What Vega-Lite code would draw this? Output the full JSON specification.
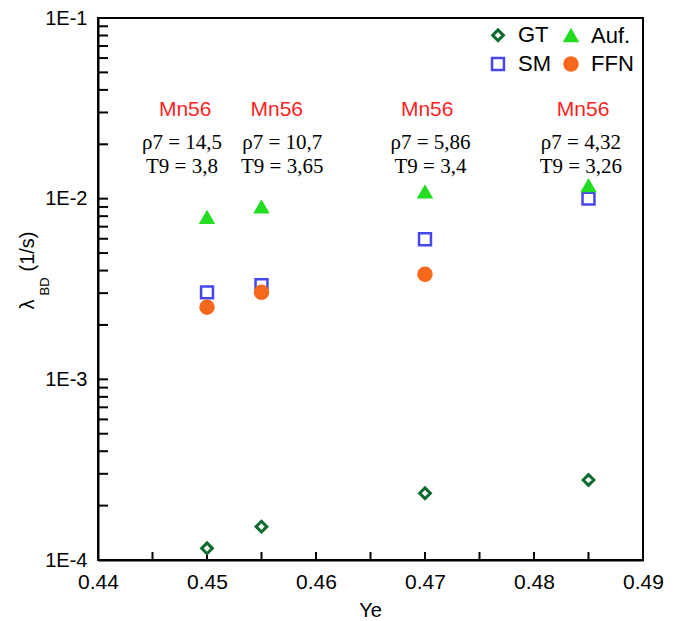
{
  "$schema": "https://vega.github.io/schema/vega-lite/v6.json",
  "width": 545,
  "height": 542,
  "autosize": {"type": "none"},
  "padding": {"left": 98, "top": 18, "right": 37, "bottom": 61},
  "background": "white",
  "config": {
    "view": {"stroke": "black", "strokeWidth": 2},
    "axis": {
      "grid": false,
      "domainColor": "black",
      "domainWidth": 2,
      "labelColor": "black",
      "titleColor": "black",
      "labelFont": "Liberation Sans",
      "titleFont": "Liberation Sans",
      "titleFontWeight": "normal"
    }
  },
  "datasets": {
    "points": [
      {"Ye": 0.45, "lambda": 0.000116, "series": "GT"},
      {"Ye": 0.455, "lambda": 0.000153, "series": "GT"},
      {"Ye": 0.47, "lambda": 0.000234, "series": "GT"},
      {"Ye": 0.485, "lambda": 0.000277, "series": "GT"},
      {"Ye": 0.45, "lambda": 0.00303, "series": "SM"},
      {"Ye": 0.455, "lambda": 0.00332, "series": "SM"},
      {"Ye": 0.47, "lambda": 0.00596, "series": "SM"},
      {"Ye": 0.485, "lambda": 0.0100, "series": "SM"},
      {"Ye": 0.45, "lambda": 0.00251, "series": "FFN"},
      {"Ye": 0.455, "lambda": 0.00303, "series": "FFN"},
      {"Ye": 0.47, "lambda": 0.00382, "series": "FFN"},
      {"Ye": 0.45, "lambda": 0.00787, "series": "Auf."},
      {"Ye": 0.455, "lambda": 0.0090, "series": "Auf."},
      {"Ye": 0.47, "lambda": 0.0109, "series": "Auf."},
      {"Ye": 0.485, "lambda": 0.0118, "series": "Auf."}
    ],
    "names": [
      {"Ye": 0.448, "lambda": 0.0311, "label": "Mn56"},
      {"Ye": 0.4564, "lambda": 0.0311, "label": "Mn56"},
      {"Ye": 0.4702, "lambda": 0.0311, "label": "Mn56"},
      {"Ye": 0.4845, "lambda": 0.0311, "label": "Mn56"}
    ],
    "conds": [
      {"Ye": 0.4477, "lambda": 0.0203, "label": "ρ7 = 14,5"},
      {"Ye": 0.4477, "lambda": 0.0149, "label": "T9 = 3,8"},
      {"Ye": 0.4569, "lambda": 0.0203, "label": "ρ7 = 10,7"},
      {"Ye": 0.4569, "lambda": 0.0149, "label": "T9 = 3,65"},
      {"Ye": 0.4705, "lambda": 0.0203, "label": "ρ7 = 5,86"},
      {"Ye": 0.4705, "lambda": 0.0149, "label": "T9 = 3,4"},
      {"Ye": 0.4843, "lambda": 0.0203, "label": "ρ7 = 4,32"},
      {"Ye": 0.4843, "lambda": 0.0149, "label": "T9 = 3,26"}
    ],
    "yticks": [
      {"tick": 0.0002}, {"tick": 0.0003}, {"tick": 0.0004}, {"tick": 0.0005}, {"tick": 0.0006}, {"tick": 0.0007}, {"tick": 0.0008}, {"tick": 0.0009},
      {"tick": 0.001}, {"tick": 0.002}, {"tick": 0.003}, {"tick": 0.004}, {"tick": 0.005}, {"tick": 0.006}, {"tick": 0.007}, {"tick": 0.008}, {"tick": 0.009},
      {"tick": 0.01}, {"tick": 0.02}, {"tick": 0.03}, {"tick": 0.04}, {"tick": 0.05}, {"tick": 0.06}, {"tick": 0.07}, {"tick": 0.08}, {"tick": 0.09}
    ],
    "xticks": [
      {"tick": 0.445}, {"tick": 0.45}, {"tick": 0.455}, {"tick": 0.46}, {"tick": 0.465}, {"tick": 0.47}, {"tick": 0.475}, {"tick": 0.48}, {"tick": 0.485}
    ]
  },
  "layer": [
    {
      "data": {"name": "yticks"},
      "mark": {"type": "rule", "color": "black", "strokeWidth": 2},
      "encoding": {
        "y": {"field": "tick", "type": "quantitative", "axis": null},
        "x": {"datum": 0.44, "type": "quantitative", "axis": null},
        "x2": {"datum": 0.44092}
      }
    },
    {
      "data": {"name": "xticks"},
      "mark": {"type": "rule", "color": "black", "strokeWidth": 2},
      "encoding": {
        "x": {"field": "tick", "type": "quantitative", "axis": null},
        "y": {"datum": 0.0001, "type": "quantitative", "axis": null},
        "y2": {"datum": 0.0001107}
      }
    },
    {
      "data": {"name": "points"},
      "mark": {"type": "point", "filled": true, "opacity": 1},
      "encoding": {
        "x": {
          "field": "Ye",
          "type": "quantitative",
          "scale": {"domain": [0.44, 0.49], "nice": false, "zero": false},
          "axis": {
            "title": "Ye",
            "orient": "bottom",
            "values": [0.44, 0.45, 0.46, 0.47, 0.48, 0.49],
            "format": ".2f",
            "ticks": false,
            "labelPadding": 11,
            "labelFontSize": 21,
            "labelFlush": false,
            "labelOverlap": false,
            "titleFontSize": 20,
            "titleX": 272,
            "titleY": 56,
            "titleAlign": "center",
            "titleBaseline": "alphabetic"
          }
        },
        "y": {
          "field": "lambda",
          "type": "quantitative",
          "scale": {"type": "log", "domain": [0.0001, 0.1], "nice": false},
          "axis": {
            "orient": "left",
            "values": [0.0001, 0.001, 0.01, 0.1],
            "labelExpr": "'1E' + round(log(datum.value)/LN10)",
            "ticks": false,
            "labelPadding": 11,
            "labelFontSize": 20,
            "labelFlush": false,
            "labelOverlap": false,
            "title": "λ",
            "titleFontSize": 20,
            "titleAngle": 270,
            "titleX": -65,
            "titleY": 286,
            "titleAlign": "center",
            "titleBaseline": "alphabetic"
          }
        },
        "shape": {
          "field": "series",
          "type": "nominal",
          "scale": {"domain": ["GT", "SM", "Auf.", "FFN"], "range": ["diamond", "square", "triangle-up", "circle"]},
          "legend": {
            "title": null,
            "orient": "none",
            "legendX": 389,
            "legendY": 6,
            "columns": 2,
            "columnPadding": 9,
            "rowPadding": 6,
            "labelFont": "Liberation Sans",
            "labelFontSize": 22,
            "labelColor": "black",
            "labelOffset": 9,
            "padding": 0
          }
        },
        "fill": {
          "field": "series",
          "type": "nominal",
          "scale": {"domain": ["GT", "SM", "Auf.", "FFN"], "range": ["white", "white", "#22dd22", "#f5691c"]}
        },
        "stroke": {
          "field": "series",
          "type": "nominal",
          "scale": {"domain": ["GT", "SM", "Auf.", "FFN"], "range": ["#0b6b2e", "#4646ee", "#22dd22", "#f5691c"]}
        },
        "size": {
          "field": "series",
          "type": "nominal",
          "scale": {"domain": ["GT", "SM", "Auf.", "FFN"], "range": [115, 196, 190, 220]}
        },
        "strokeWidth": {
          "field": "series",
          "type": "nominal",
          "scale": {"domain": ["GT", "SM", "Auf.", "FFN"], "range": [3, 1.5, 0, 0]}
        }
      }
    },
    {
      "data": {"name": "names"},
      "mark": {"type": "text", "font": "Liberation Sans", "fontSize": 21, "color": "#ff1f1f", "baseline": "middle", "align": "center"},
      "encoding": {
        "x": {"field": "Ye", "type": "quantitative", "axis": null},
        "y": {
          "field": "lambda",
          "type": "quantitative",
          "axis": {
            "title": "BD",
            "orient": "left",
            "ticks": false,
            "labels": false,
            "domain": false,
            "titleFontSize": 13,
            "titleAngle": 270,
            "titleX": -50,
            "titleY": 268,
            "titleAlign": "center",
            "titleBaseline": "alphabetic"
          }
        },
        "text": {"field": "label", "type": "nominal"}
      }
    },
    {
      "data": {"name": "conds"},
      "mark": {"type": "text", "font": "Liberation Serif", "fontSize": 21, "color": "black", "baseline": "middle", "align": "center"},
      "encoding": {
        "x": {"field": "Ye", "type": "quantitative", "axis": null},
        "y": {
          "field": "lambda",
          "type": "quantitative",
          "axis": {
            "title": "(1/s)",
            "orient": "left",
            "ticks": false,
            "labels": false,
            "domain": false,
            "titleFontSize": 20,
            "titleAngle": 270,
            "titleX": -65,
            "titleY": 233,
            "titleAlign": "center",
            "titleBaseline": "alphabetic"
          }
        },
        "text": {"field": "label", "type": "nominal"}
      }
    }
  ],
  "resolve": {"axis": {"x": "independent", "y": "independent"}}
}
